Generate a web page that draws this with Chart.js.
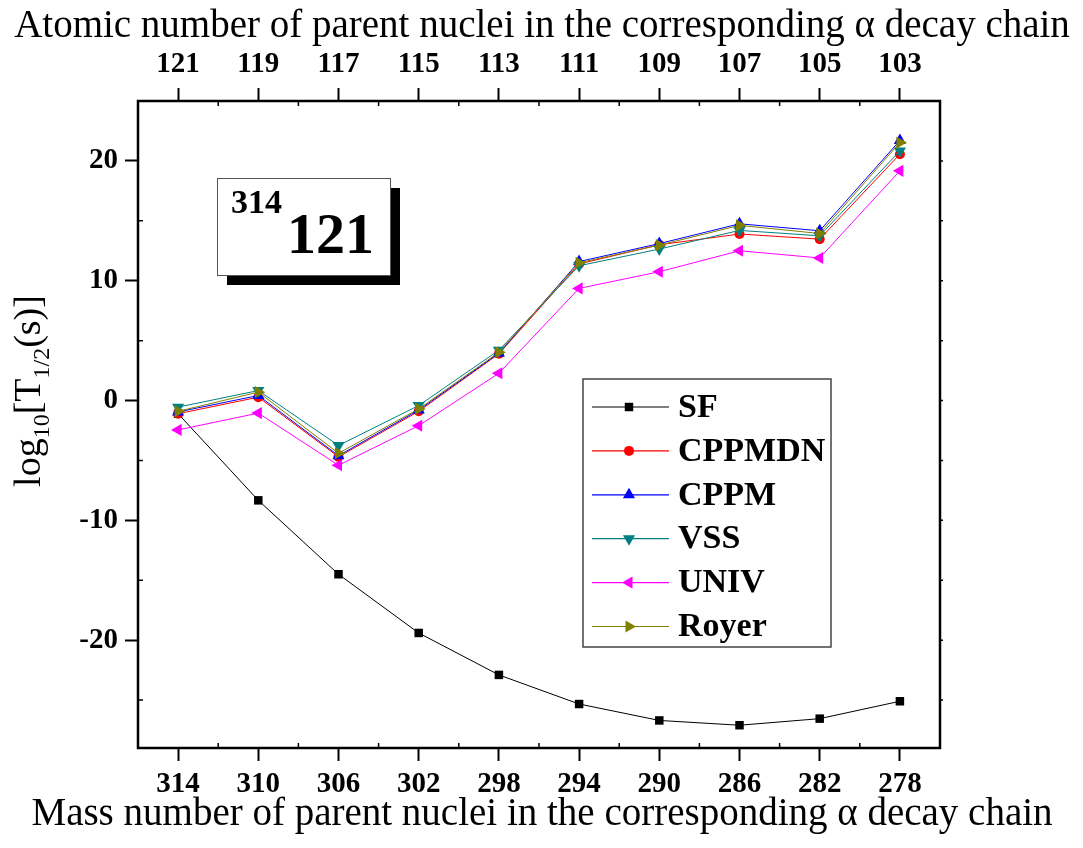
<!DOCTYPE html>
<html>
<head>
<meta charset="utf-8">
<script src="https://cdn.jsdelivr.net/npm/chart.js@4.4.0/dist/chart.umd.min.js"></script>
<style>
  html, body { margin: 0; padding: 0; background: #fff; }
  #wrap { width: 1083px; height: 848px; }
</style>
</head>
<body>
<div id="wrap"><canvas id="chart" width="1083" height="848"></canvas></div>
<script>
// mass numbers (bottom axis) and atomic numbers (top axis) of the alpha chain
const massNumbers = [314, 310, 306, 302, 298, 294, 290, 286, 282, 278];
const atomicNumbers = [121, 119, 117, 115, 113, 111, 109, 107, 105, 103];

// log10 T1/2 (s)
const sfValues     = [-1.1, -8.33, -14.5, -19.4, -22.9, -25.33, -26.7, -27.1, -26.55, -25.1];
const cppmdnValues = [-1.1, 0.28, -4.7, -0.9, 3.9, 11.4, 13.0, 13.9, 13.47, 20.56];
const cppmValues   = [-0.95, 0.42, -4.6, -0.8, 3.95, 11.6, 13.1, 14.75, 14.17, 21.7];
const vssValues    = [-0.55, 0.83, -3.75, -0.42, 4.2, 11.25, 12.64, 14.2, 13.75, 20.83];
const univValues   = [-2.45, -1.05, -5.4, -2.1, 2.28, 9.36, 10.75, 12.5, 11.9, 19.17];
const royerValues  = [-0.9, 0.7, -4.4, -0.7, 4.03, 11.5, 12.97, 14.62, 13.94, 21.53];

const yTicks = [-20, -10, 0, 10, 20];
const yMinorTicks = [-25, -15, -5, 5, 15];
const xMinorTicks = [312, 308, 304, 300, 296, 292, 288, 284, 280];

const SERIF = "'Liberation Serif', 'Times New Roman', serif";

function pts(values) {
  return values.map((v, i) => ({ x: massNumbers[i], y: v }));
}

function series(label, values, color, style, rotation, radius, order) {
  return {
    label: label,
    data: pts(values),
    borderColor: color,
    backgroundColor: color,
    borderWidth: 1,
    pointStyle: style,
    pointRotation: rotation,
    pointRadius: radius,
    pointBorderWidth: 0,
    pointBackgroundColor: color,
    order: order,
    tension: 0
  };
}

// frame, minor ticks, titles, label box and legend
const decorations = {
  id: 'decorations',
  afterDraw(chart) {
    const ctx = chart.ctx;
    const a = chart.chartArea;
    const sx = chart.scales.x;
    const sy = chart.scales.y;
    ctx.save();

    // frame
    ctx.strokeStyle = '#000';
    ctx.lineWidth = 2.5;
    ctx.strokeRect(a.left, a.top, a.right - a.left, a.bottom - a.top);

    // minor ticks
    ctx.lineWidth = 1.5;
    ctx.beginPath();
    xMinorTicks.forEach(v => {
      const px = sx.getPixelForValue(v);
      ctx.moveTo(px, a.bottom); ctx.lineTo(px, a.bottom - 5);
      ctx.moveTo(px, a.top); ctx.lineTo(px, a.top + 5);
    });
    yMinorTicks.forEach(v => {
      const py = sy.getPixelForValue(v);
      ctx.moveTo(a.left, py); ctx.lineTo(a.left + 5, py);
      ctx.moveTo(a.right, py); ctx.lineTo(a.right + 3, py);
    });
    yTicks.forEach(v => {
      const py = sy.getPixelForValue(v);
      ctx.moveTo(a.right, py); ctx.lineTo(a.right + 3, py);
    });
    ctx.stroke();

    // axis titles
    ctx.fillStyle = '#000';
    ctx.textAlign = 'center';
    ctx.textBaseline = 'alphabetic';
    ctx.font = '39px ' + SERIF;
    ctx.fillText('Atomic number of parent nuclei in the corresponding \u03b1 decay chain', 542, 37);
    ctx.fillText('Mass number of parent nuclei in the corresponding \u03b1 decay chain', 542, 825);

    // y title with subscripts
    const parts = [
      ['log', 38, 0], ['10', 24, 9], ['[T', 38, 0], ['1/2', 24, 9], ['(s)]', 38, 0]
    ];
    let total = 0;
    parts.forEach(p => { ctx.font = p[1] + 'px ' + SERIF; total += ctx.measureText(p[0]).width; });
    ctx.translate(40, 391);
    ctx.rotate(-Math.PI / 2);
    ctx.textAlign = 'left';
    let cx = -total / 2;
    parts.forEach(p => {
      ctx.font = p[1] + 'px ' + SERIF;
      ctx.fillText(p[0], cx, p[2]);
      cx += ctx.measureText(p[0]).width;
    });
    ctx.setTransform(1, 0, 0, 1, 0, 0);

    // nucleus label box
    const bx = a.left + 79, by = a.top + 77, bw = 173, bh = 97;
    ctx.fillStyle = '#000';
    ctx.fillRect(bx + 10, by + 10, bw, bh);
    ctx.fillStyle = '#fff';
    ctx.fillRect(bx, by, bw, bh);
    ctx.strokeStyle = '#555';
    ctx.lineWidth = 1;
    ctx.strokeRect(bx + 0.5, by + 0.5, bw, bh);
    ctx.fillStyle = '#000';
    ctx.textAlign = 'left';
    ctx.font = 'bold 34px ' + SERIF;
    ctx.fillText('314', bx + 14, by + 35);
    ctx.font = 'bold 58px ' + SERIF;
    ctx.fillText('121', bx + 70, by + 75);

    // legend
    const lx = 583, ly = 379, lw = 248, lh = 268;
    ctx.strokeStyle = '#444';
    ctx.lineWidth = 1.5;
    ctx.strokeRect(lx, ly, lw, lh);
    chart.data.datasets.forEach((ds, i) => {
      const rowY = 407 + i * 43.9;
      ctx.strokeStyle = ds.borderColor;
      ctx.lineWidth = 1.2;
      ctx.beginPath();
      ctx.moveTo(592, rowY); ctx.lineTo(669, rowY);
      ctx.stroke();
      ctx.fillStyle = ds.pointBackgroundColor;
      Chart.helpers.drawPoint(ctx, {
        pointStyle: ds.pointStyle,
        rotation: ds.pointRotation,
        radius: ds.pointRadius,
        borderWidth: 0
      }, 629, rowY);
      ctx.fillStyle = '#000';
      ctx.font = 'bold 34px ' + SERIF;
      ctx.textBaseline = 'middle';
      ctx.fillText(ds.label, 678, rowY + 1);
      ctx.textBaseline = 'alphabetic';
    });

    ctx.restore();
  }
};

const tickFont = { family: SERIF, size: 29, weight: 'bold' };
const tickGrid = { drawOnChartArea: false, drawTicks: true, tickLength: 13, tickWidth: 2, tickColor: '#000' };

new Chart(document.getElementById('chart'), {
  type: 'line',
  data: {
    datasets: [
      series('SF', sfValues, '#000000', 'rect', 0, 6, 6),
      series('CPPMDN', cppmdnValues, '#FF0000', 'circle', 0, 5, 5),
      series('CPPM', cppmValues, '#0000FF', 'triangle', 0, 7, 4),
      series('VSS', vssValues, '#008080', 'triangle', 180, 7, 3),
      series('UNIV', univValues, '#FF00FF', 'triangle', -90, 7, 2),
      series('Royer', royerValues, '#808000', 'triangle', 90, 7, 1)
    ]
  },
  options: {
    responsive: false,
    animation: false,
    events: [],
    layout: { padding: { left: 0, top: 0, right: 143, bottom: 0 } },
    plugins: { legend: { display: false }, tooltip: { enabled: false } },
    scales: {
      x: {
        type: 'linear',
        position: 'bottom',
        min: 276,
        max: 316,
        reverse: true,
        afterBuildTicks: s => { s.ticks = massNumbers.map(v => ({ value: v })); },
        afterFit: s => { s.height = 100; },
        ticks: { font: tickFont, color: '#000', padding: 6, autoSkip: false, maxRotation: 0, callback: v => String(v) },
        grid: tickGrid,
        border: { display: false }
      },
      xTop: {
        type: 'linear',
        position: 'top',
        min: 276,
        max: 316,
        reverse: true,
        afterBuildTicks: s => { s.ticks = massNumbers.map(v => ({ value: v })); },
        afterFit: s => { s.height = 101; },
        ticks: { font: tickFont, color: '#000', padding: 6, autoSkip: false, maxRotation: 0,
          callback: v => String(atomicNumbers[massNumbers.indexOf(v)]) },
        grid: tickGrid,
        border: { display: false }
      },
      y: {
        type: 'linear',
        position: 'left',
        min: -29,
        max: 25,
        afterBuildTicks: s => { s.ticks = yTicks.map(v => ({ value: v })); },
        afterFit: s => { s.width = 138; },
        ticks: { font: tickFont, color: '#000', padding: 7, callback: v => String(v) },
        grid: tickGrid,
        border: { display: false }
      }
    }
  },
  plugins: [decorations]
});
</script>
</body>
</html>
